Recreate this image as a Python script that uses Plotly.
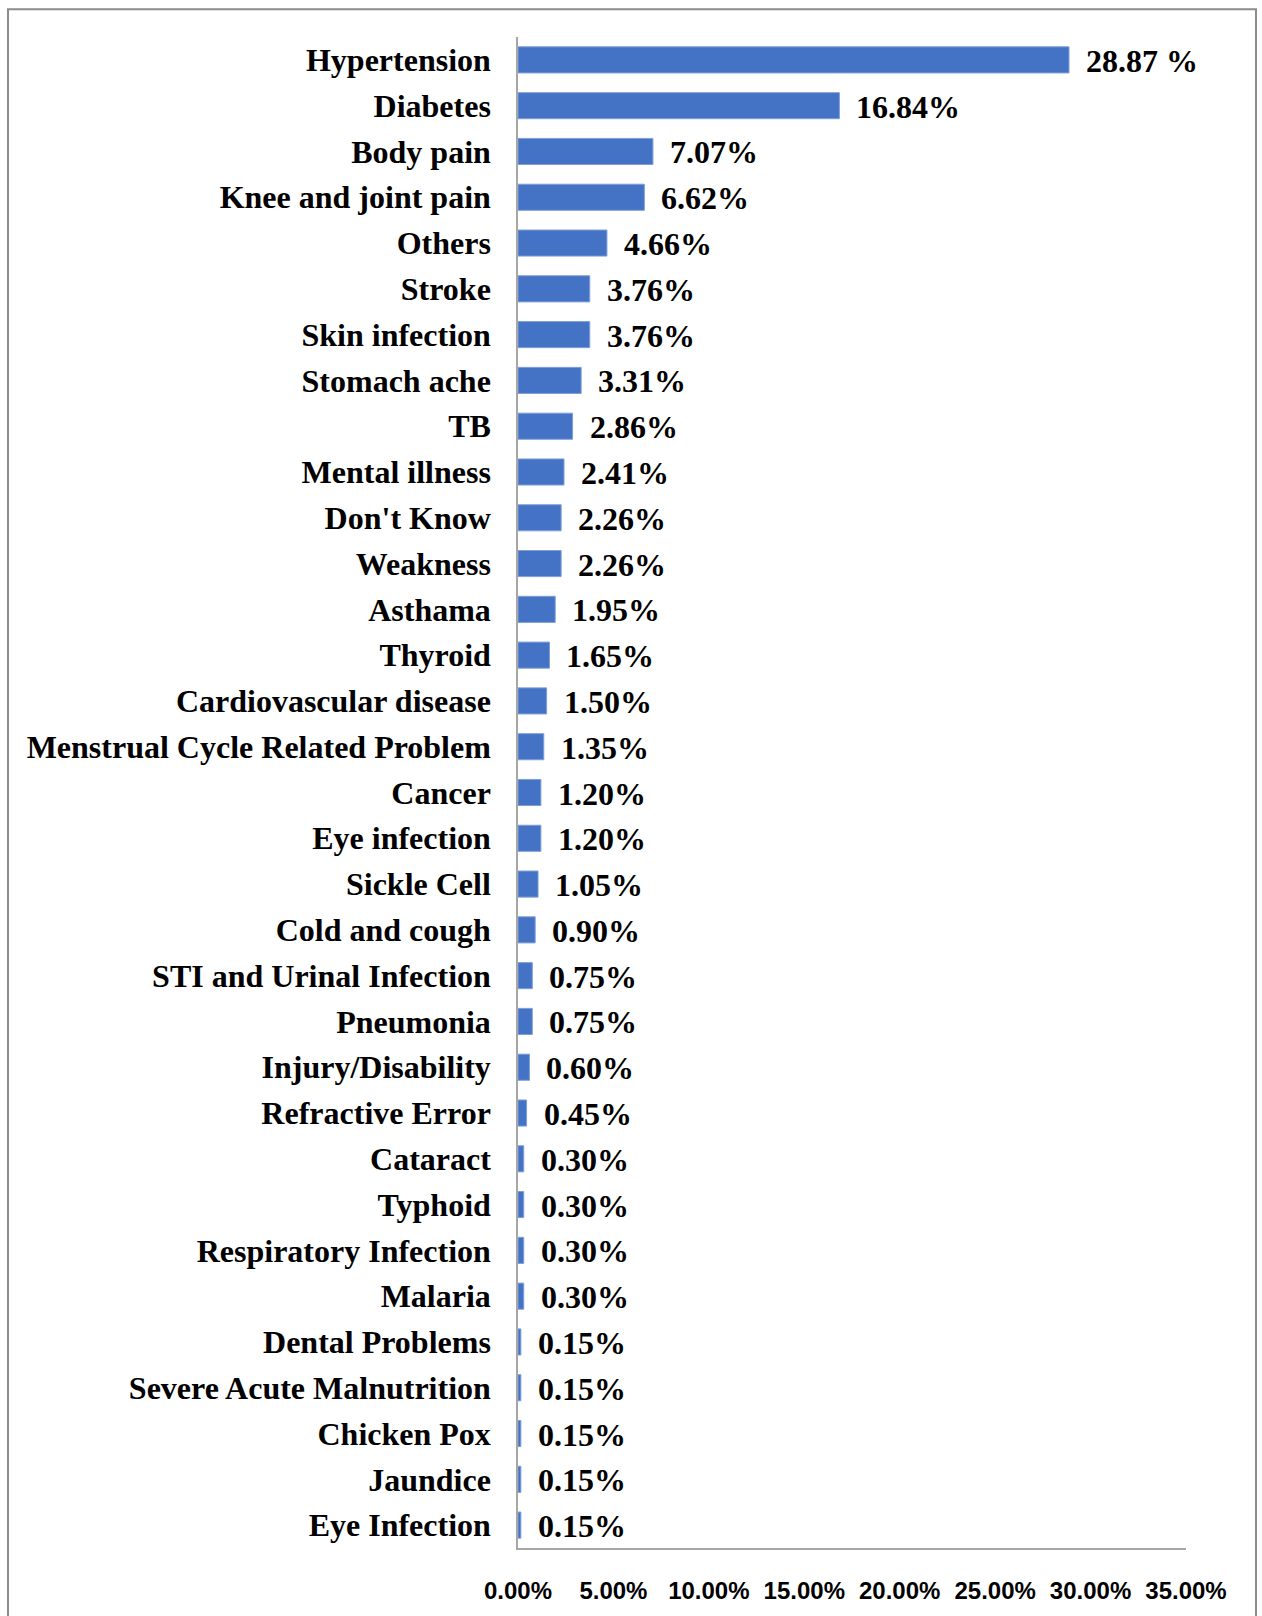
import plotly.graph_objects as go

# Reported health problems (share of respondents, %)
categories = [
    "Hypertension", "Diabetes", "Body pain", "Knee and joint pain", "Others",
    "Stroke", "Skin infection", "Stomach ache", "TB", "Mental illness",
    "Don't Know", "Weakness", "Asthama", "Thyroid", "Cardiovascular disease",
    "Menstrual Cycle Related Problem", "Cancer", "Eye infection", "Sickle Cell",
    "Cold and cough", "STI and Urinal Infection", "Pneumonia",
    "Injury/Disability", "Refractive Error", "Cataract", "Typhoid",
    "Respiratory Infection", "Malaria", "Dental Problems",
    "Severe Acute Malnutrition", "Chicken Pox", "Jaundice", "Eye Infection",
]
values = [
    28.87, 16.84, 7.07, 6.62, 4.66, 3.76, 3.76, 3.31, 2.86, 2.41,
    2.26, 2.26, 1.95, 1.65, 1.50, 1.35, 1.20, 1.20, 1.05, 0.90,
    0.75, 0.75, 0.60, 0.45, 0.30, 0.30, 0.30, 0.30, 0.15, 0.15,
    0.15, 0.15, 0.15,
]
value_labels = ["28.87 %"] + [f"{v:.2f}%" for v in values[1:]]
x_ticks = [0, 5, 10, 15, 20, 25, 30, 35]
x_tick_labels = [f"{t:.2f}%" for t in x_ticks]

W, H = 1262, 1616
ML, MR, MT, MB = 518, 76, 37, 61
plot_w = W - ML - MR
plot_h = H - MT - MB

serif = "Liberation Serif, Times New Roman, serif"

fig = go.Figure(
    go.Bar(
        x=values,
        y=categories,
        orientation="h",
        marker=dict(color="#4472C4", line=dict(color="#7f9fd9", width=1)),
        hoverinfo="x+y",
    )
)

for v, c, lab in zip(values, categories, value_labels):
    fig.add_annotation(
        x=v, y=c, text=f"<b>{lab}</b>", showarrow=False,
        xanchor="left", yanchor="middle", xshift=15, yshift=-1,
        font=dict(family=serif, size=32, color="#000000"),
    )


def px_to_paper_x(px):
    return (px - ML) / plot_w


def px_to_paper_y(py):
    return (H - MB - py) / plot_h


# outer frame around the chart
fig.add_shape(
    type="rect", xref="paper", yref="paper",
    x0=px_to_paper_x(8), x1=px_to_paper_x(1256),
    y0=px_to_paper_y(1640), y1=px_to_paper_y(9),
    line=dict(color="#8c8c8c", width=2), fillcolor="rgba(0,0,0,0)",
    layer="below",
)

fig.update_layout(
    width=W, height=H,
    margin=dict(l=ML, r=MR, t=MT, b=MB, pad=0),
    paper_bgcolor="white", plot_bgcolor="white",
    bargap=0.43,
    showlegend=False,
    xaxis=dict(
        range=[0, 35], tickvals=x_ticks, ticktext=[f"<b>{t}</b>" for t in x_tick_labels],
        showgrid=False, zeroline=False, showline=True, linecolor="#a6a6a6",
        linewidth=1.5, ticks="", ticklabelstandoff=20,
        tickfont=dict(family="Liberation Sans, Arial, sans-serif", size=24, color="#000000"),
        fixedrange=True,
    ),
    yaxis=dict(
        categoryorder="array", categoryarray=categories,
        range=[len(categories) - 0.5, -0.5],
        showgrid=False, zeroline=False, showline=True, linecolor="#a6a6a6",
        linewidth=1.5, ticks="", ticklabelstandoff=19,
        tickvals=categories, ticktext=[f"<b>{c}</b>" for c in categories],
        tickfont=dict(family=serif, size=32, color="#000000"),
        fixedrange=True,
    ),
)

fig.write_html("out.html")
